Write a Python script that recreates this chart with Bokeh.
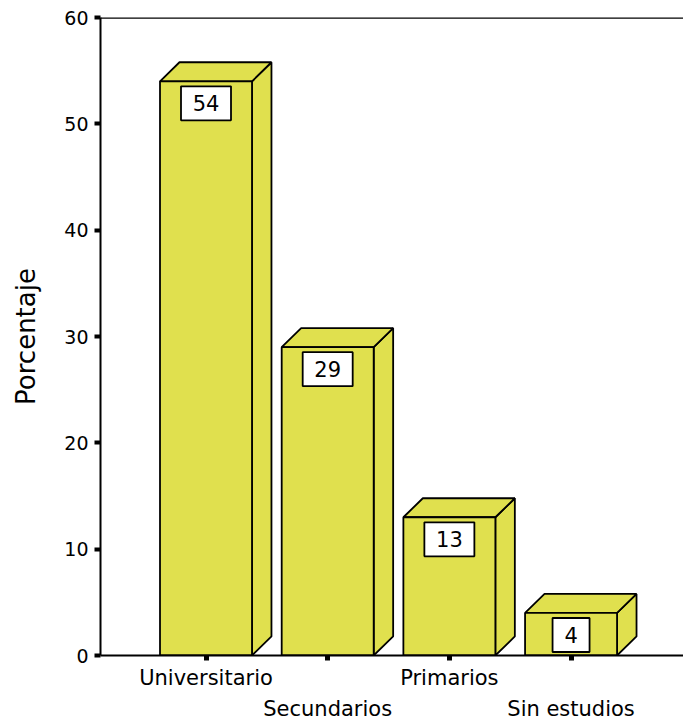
from bokeh.plotting import figure
from bokeh.models import FixedTicker, LinearAxis, Span, Range1d, CustomJSTickFormatter
from bokeh.embed import file_html
from bokeh.resources import INLINE
from bokeh.core.properties import value

# Education level distribution (percent of respondents)
categories = ["Universitario", "Secundarios", "Primarios", "Sin estudios"]
percentages = [54, 29, 13, 4]
y_ticks = [0, 10, 20, 30, 40, 50, 60]

FONT = "DejaVu Sans"
FILL = "#e0e04e"
xs = list(range(len(categories)))
bar_w = 0.756          # width of the front face, in category units
dx, dy = 0.16, 1.79    # depth offset of the 3-D extrusion (x units, y units)
box_drop = 2.07        # value-box centre below the bar top, in y units

p = figure(width=683, height=725, output_backend="svg", toolbar_location=None,
           x_range=Range1d(-0.867, 3.924), y_range=Range1d(0, 60),
           min_border_left=100, min_border_right=0, min_border_top=17,
           min_border_bottom=70)
p.outline_line_color = None
p.grid.visible = False
p.background_fill_color = "white"

lefts = [x - bar_w / 2 for x in xs]
rights = [x + bar_w / 2 for x in xs]

# side faces
p.patches(xs=[[r, r + dx, r + dx, r] for r in rights],
          ys=[[0, dy, v + dy, v] for v in percentages],
          fill_color=FILL, line_color="black", line_width=1.8)
# top faces
p.patches(xs=[[l, l + dx, r + dx, r] for l, r in zip(lefts, rights)],
          ys=[[v, v + dy, v + dy, v] for v in percentages],
          fill_color=FILL, line_color="black", line_width=1.8)
# front faces
p.quad(left=lefts, right=rights, bottom=0, top=percentages,
       fill_color=FILL, line_color="black", line_width=1.8)

# value boxes
label_y = [v - box_drop for v in percentages]
p.rect(x=xs, y=label_y, width=[24 + 13 * len(str(v)) for v in percentages],
       height=34, width_units="screen", height_units="screen",
       fill_color="white", line_color="black", line_width=1.8)
p.text(x=xs, y=label_y, text=[str(v) for v in percentages],
       text_align="center", text_baseline="middle",
       text_font=value(FONT), text_font_size="21px", text_color="black")

# top border line
p.add_layout(Span(location=60, dimension="width", line_color="black", line_width=2.5))

# y axis
ya = p.yaxis[0]
ya.ticker = FixedTicker(ticks=y_ticks)
ya.axis_label = "Porcentaje"
ya.axis_label_text_font = FONT
ya.axis_label_text_font_style = "normal"
ya.axis_label_text_font_size = "26px"
ya.axis_label_text_color = "black"
ya.axis_label_standoff = 20
ya.major_label_text_font = FONT
ya.major_label_text_font_size = "19px"
ya.major_label_text_color = "black"
ya.major_label_standoff = 6
ya.axis_line_width = 2
ya.axis_line_color = "black"
ya.major_tick_line_width = 4
ya.major_tick_line_color = "black"
ya.major_tick_out = 6
ya.major_tick_in = 0
ya.minor_tick_line_color = None

# x axis: first row of labels (even categories), ticks at every category
xa = p.xaxis[0]
xa.ticker = FixedTicker(ticks=xs[0::2], minor_ticks=xs[1::2])
xa.formatter = CustomJSTickFormatter(args=dict(names=categories),
                                     code="return names[Math.round(tick)];")
xa.major_label_text_font = FONT
xa.major_label_text_font_size = "21px"
xa.major_label_text_color = "black"
xa.major_label_standoff = 5
xa.axis_line_width = 2
xa.axis_line_color = "black"
for kind in ("major", "minor"):
    setattr(xa, f"{kind}_tick_line_width", 5)
    setattr(xa, f"{kind}_tick_line_color", "black")
    setattr(xa, f"{kind}_tick_out", 5)
    setattr(xa, f"{kind}_tick_in", 0)

# second row of labels (odd categories)
xa2 = LinearAxis(ticker=FixedTicker(ticks=xs[1::2]),
                 formatter=CustomJSTickFormatter(args=dict(names=categories),
                                                 code="return names[Math.round(tick)];"),
                 axis_line_color=None, major_tick_line_color=None,
                 minor_tick_line_color=None, major_tick_out=0, major_tick_in=0,
                 minor_tick_out=0, minor_tick_in=0,
                 major_label_text_font=FONT, major_label_text_font_size="21px",
                 major_label_text_color="black", major_label_standoff=4)
p.add_layout(xa2, "below")

open("out.html", "w").write(file_html(p, INLINE))
